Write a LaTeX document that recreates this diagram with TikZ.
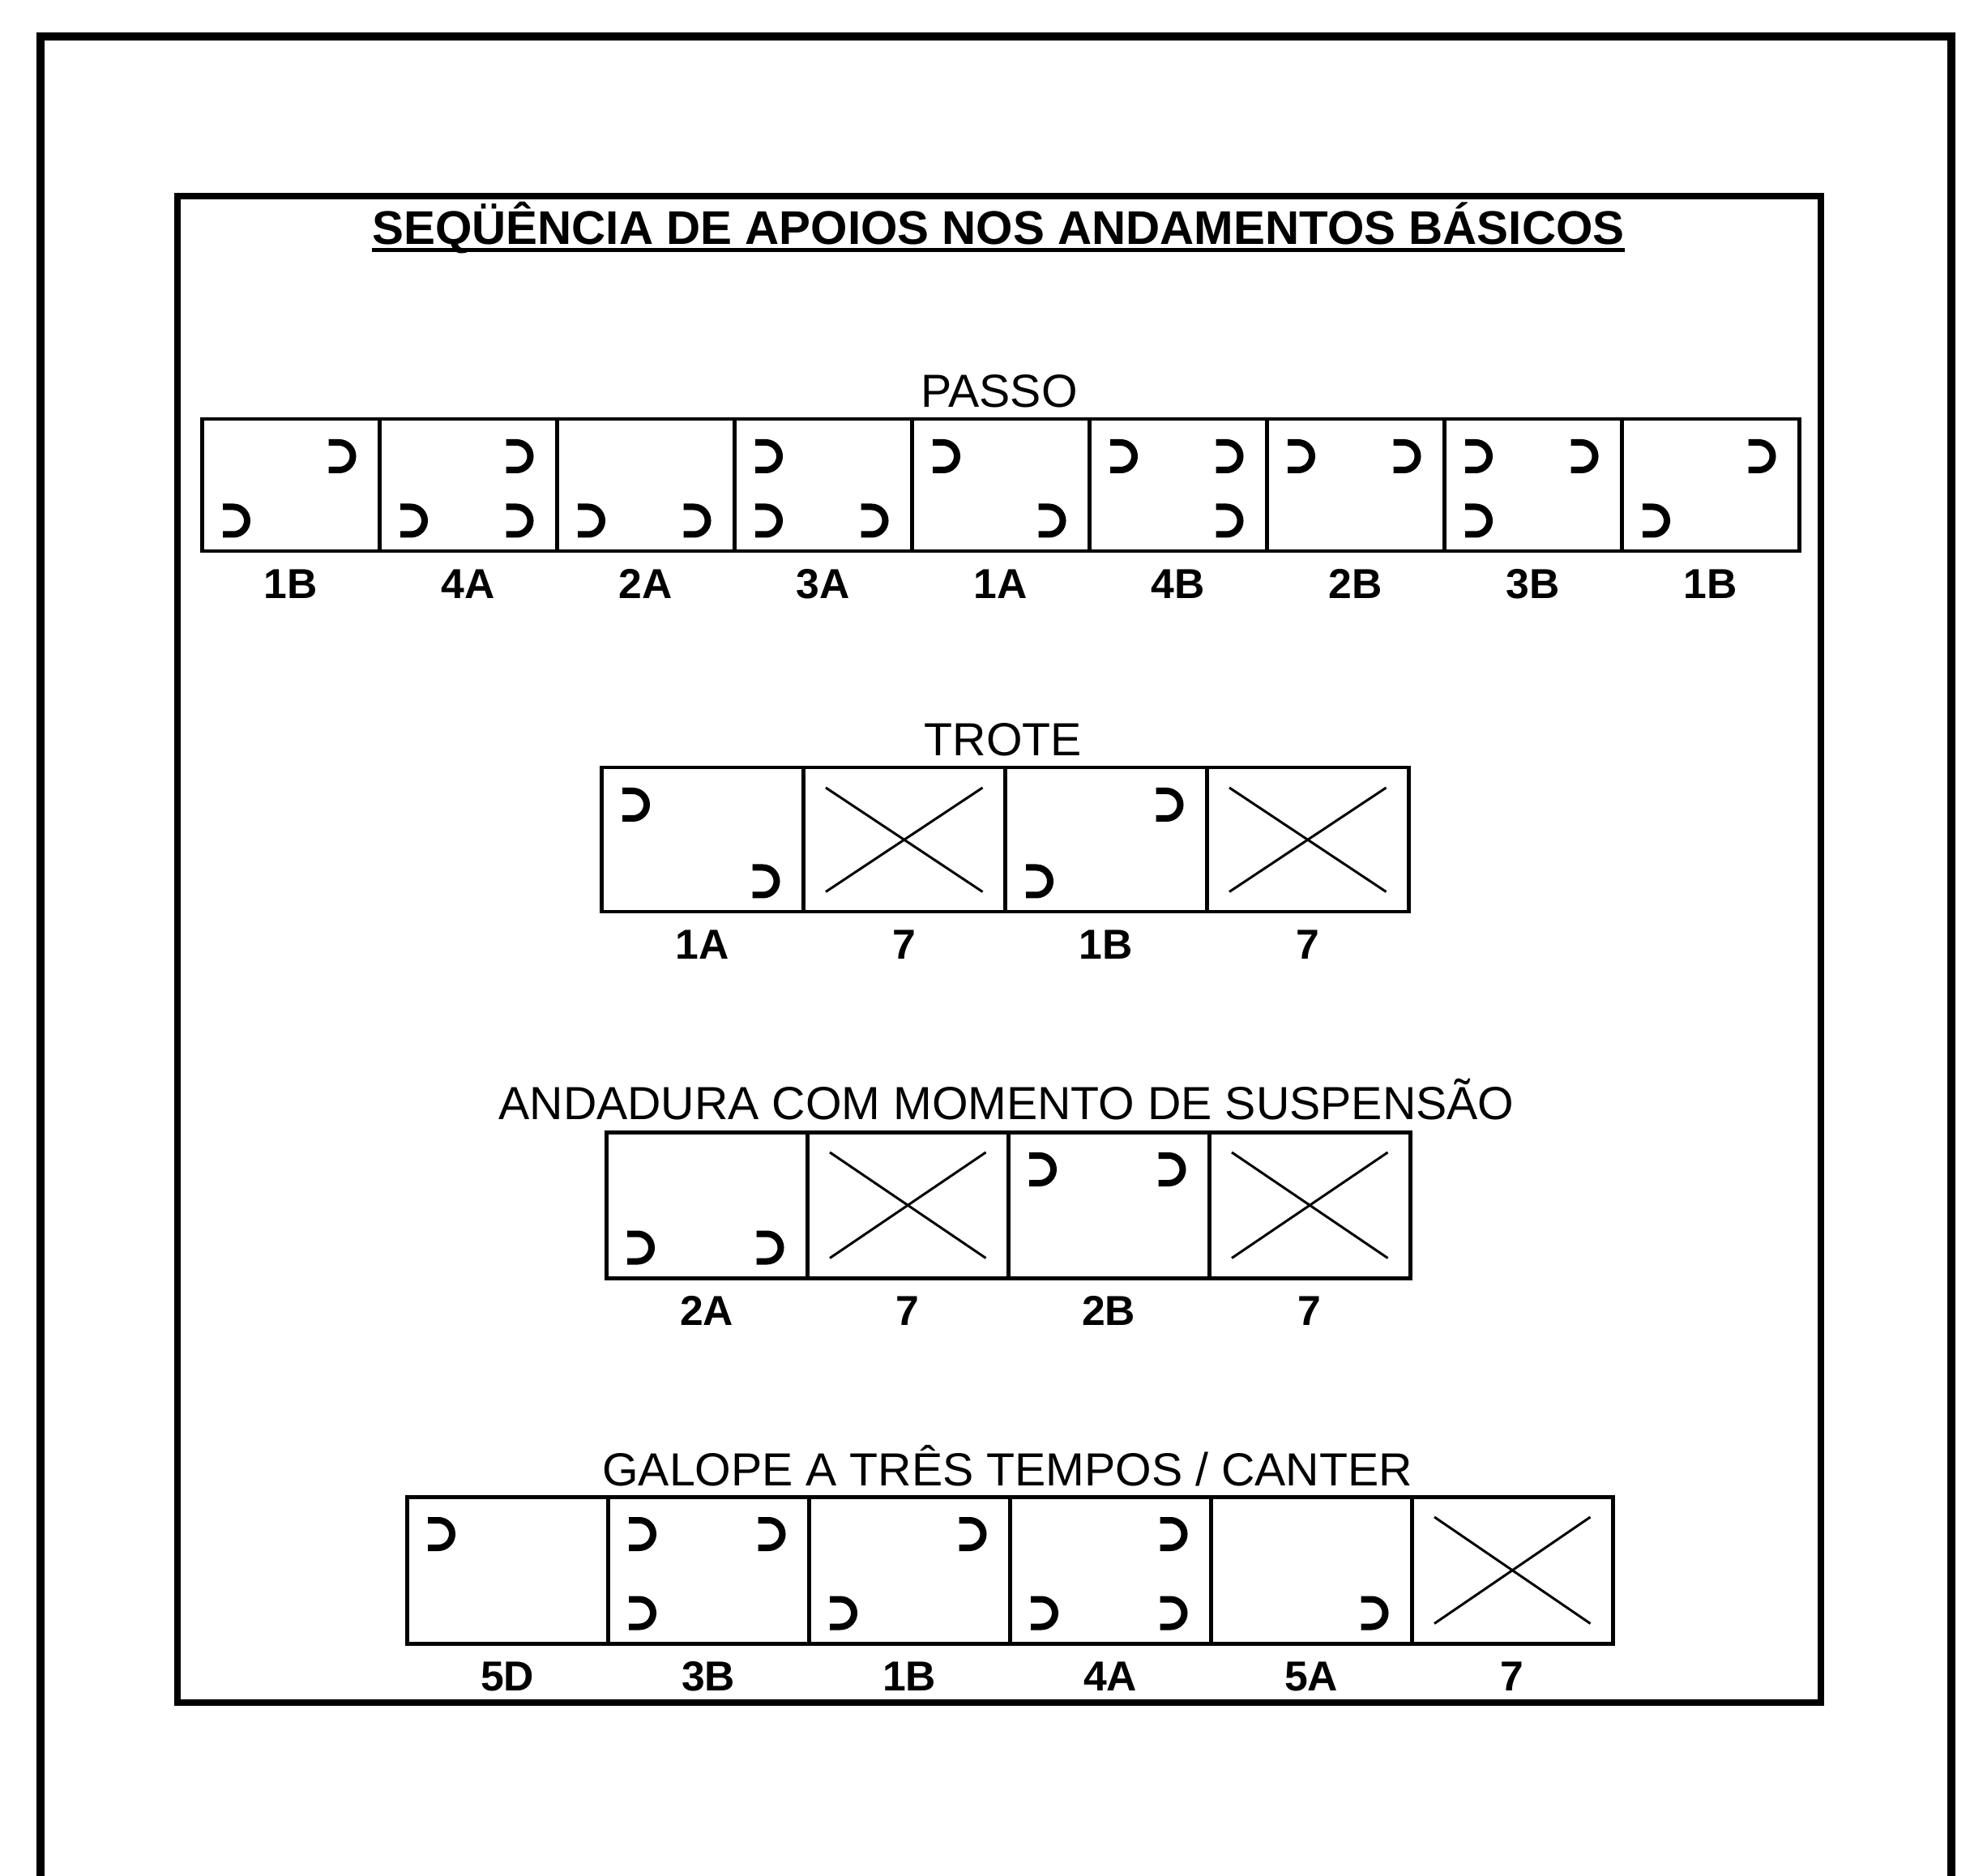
\documentclass[tikz,border=0pt]{standalone}
\usepackage{fontspec}
\setmainfont{Liberation Sans}
\usetikzlibrary{positioning}

% hooves in a box: top left, top right, bottom left, bottom right
\newcommand{\hoofset}[5]{%
  \ifnum#2=1 \pic at ([shift={(0.43,-0.48)}]#1.north west) {hoof};\fi
  \ifnum#3=1 \pic at ([shift={(-0.50,-0.48)}]#1.north east) {hoof};\fi
  \ifnum#4=1 \pic at ([shift={(0.43,0.40)}]#1.south west) {hoof};\fi
  \ifnum#5=1 \pic at ([shift={(-0.50,0.40)}]#1.south east) {hoof};\fi}
\newcommand{\suspension}[1]{%
  \draw[cross] ([shift={(0.30,-0.27)}]#1.north west) -- ([shift={(-0.30,0.27)}]#1.south east);
  \draw[cross] ([shift={(-0.30,-0.27)}]#1.north east) -- ([shift={(0.30,0.27)}]#1.south west);}

\begin{document}
\begin{tikzpicture}[
    box/.style={draw, rectangle, line width=0.45mm, inner sep=0pt, anchor=north west},
    cross/.style={line width=0.3mm},
    hoofline/.style={line width=0.8mm},
    gait/.style={font=\fontsize{16.3}{19}\selectfont, anchor=base, inner sep=0pt},
    steplabel/.style={font=\fontsize{14.7}{17}\selectfont\bfseries, anchor=base, inner sep=0pt},
    hoof/.pic={\draw[hoofline] (-0.15,0.17) -- (-0.02,0.17) arc (90:-90:0.17) -- (-0.15,-0.17);}
  ]
    \useasboundingbox (0,0) rectangle (24.31,23.14);
    % frames
    \draw[line width=1mm] (0.50,-0.2) -- (0.50,22.69) -- (24.08,22.69) -- (24.08,-0.2);
    \draw[line width=0.8mm] (2.19,2.13) rectangle (22.47,20.72);
    \node[font=\fontsize{16.6}{19}\selectfont\bfseries, anchor=base, inner sep=0pt] (title) at (12.32,20.12) {SEQÜÊNCIA DE APOIOS NOS ANDAMENTOS BÁSICOS};
    \draw[line width=0.5mm] ([yshift=-0.07cm]title.base west) -- ([yshift=-0.07cm]title.base east);

    % passo
    \node[gait] (passo) at (12.33,18.11) {PASSO};
    \foreach \lab/\tl/\tr/\bl/\br [count=\i] in {1B/0/1/1/0, 4A/0/1/1/1, 2A/0/0/1/1, 3A/1/0/1/1, 1A/1/0/0/1, 4B/1/1/0/1, 2B/1/1/0/0, 3B/1/1/1/0, 1B/0/1/1/0} {
      \node[box, minimum width=2.19cm, minimum height=1.63cm] (p\i) at ({2.47+2.19*(\i-1)},17.99) {};
      \node[steplabel] (p\i lab) at ([yshift=-0.56cm]p\i.south) {\lab};
      \hoofset{p\i}{\tl}{\tr}{\bl}{\br}
    }

    % trote
    \node[gait] (trote) at (12.38,13.81) {TROTE};
    \foreach \lab/\tl/\tr/\bl/\br/\x [count=\i] in {1A/1/0/0/1/0, 7/0/0/0/0/1, 1B/0/1/1/0/0, 7/0/0/0/0/1} {
      \node[box, minimum width=2.49cm, minimum height=1.78cm] (t\i) at ({7.40+2.49*(\i-1)},13.69) {};
      \node[steplabel] (t\i lab) at ([yshift=-0.56cm]t\i.south) {\lab};
      \hoofset{t\i}{\tl}{\tr}{\bl}{\br}
      \ifnum\x=1 \suspension{t\i}\fi
    }

    % andadura
    \node[gait] (andadura) at (12.42,9.33) {ANDADURA COM MOMENTO DE SUSPENSÃO};
    \foreach \lab/\tl/\tr/\bl/\br/\x [count=\i] in {2A/0/0/1/1/0, 7/0/0/0/0/1, 2B/1/1/0/0/0, 7/0/0/0/0/1} {
      \node[box, minimum width=2.48cm, minimum height=1.80cm] (a\i) at ({7.46+2.48*(\i-1)},9.19) {};
      \node[steplabel] (a\i lab) at ([yshift=-0.56cm]a\i.south) {\lab};
      \hoofset{a\i}{\tl}{\tr}{\bl}{\br}
      \ifnum\x=1 \suspension{a\i}\fi
    }

    % galope
    \node[gait] (galope) at (12.43,4.81) {GALOPE A TRÊS TEMPOS / CANTER};
    \foreach \lab/\tl/\tr/\bl/\br/\x [count=\i] in {5D/1/0/0/0/0, 3B/1/1/1/0/0, 1B/0/1/1/0/0, 4A/0/1/1/1/0, 5A/0/0/0/1/0, 7/0/0/0/0/1} {
      \node[box, minimum width=2.48cm, minimum height=1.81cm] (g\i) at ({5.00+2.48*(\i-1)},4.69) {};
      \node[steplabel] (g\i lab) at ([yshift=-0.56cm]g\i.south) {\lab};
      \hoofset{g\i}{\tl}{\tr}{\bl}{\br}
      \ifnum\x=1 \suspension{g\i}\fi
    }
\end{tikzpicture}
\end{document}
